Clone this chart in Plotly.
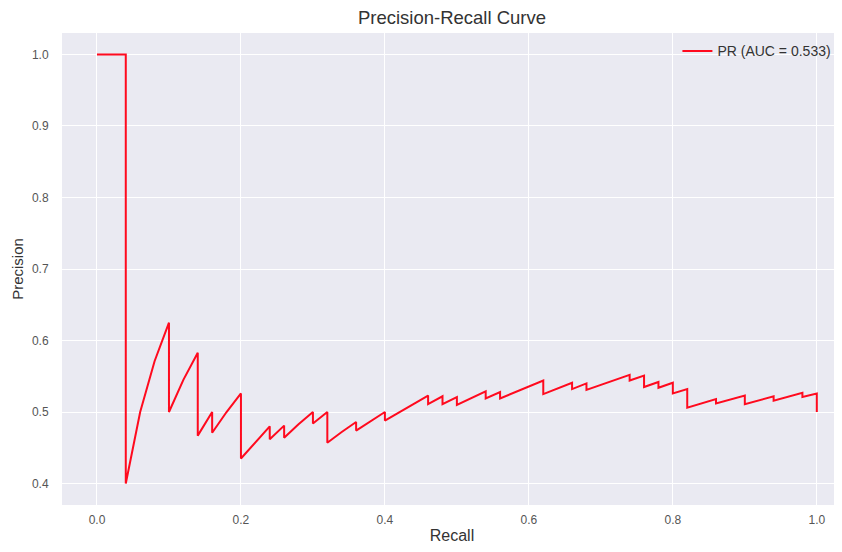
import plotly.graph_objects as go

recall = [0.00, 0.02, 0.04, 0.04, 0.06, 0.08, 0.10, 0.10, 0.12, 0.14, 0.14, 0.16, 0.16,
          0.18, 0.20, 0.20, 0.22, 0.24, 0.24, 0.26, 0.26, 0.28, 0.30, 0.30, 0.32, 0.32,
          0.34, 0.36, 0.36, 0.38, 0.40, 0.40, 0.42, 0.44, 0.46, 0.46, 0.48, 0.48, 0.50,
          0.50, 0.52, 0.54, 0.54, 0.56, 0.56, 0.58, 0.60, 0.62, 0.62, 0.64, 0.66, 0.66,
          0.68, 0.68, 0.70, 0.72, 0.74, 0.74, 0.76, 0.76, 0.78, 0.78, 0.80, 0.80, 0.82,
          0.82, 0.84, 0.86, 0.86, 0.88, 0.90, 0.90, 0.92, 0.94, 0.94, 0.96, 0.98, 0.98,
          1.00, 1.00]
precision = [1.000, 1.000, 1.000, 0.400, 0.500, 0.571, 0.625, 0.500, 0.545, 0.583, 0.467,
             0.500, 0.471, 0.500, 0.526, 0.435, 0.458, 0.480, 0.462, 0.481, 0.464, 0.483,
             0.500, 0.484, 0.500, 0.457, 0.472, 0.486, 0.474, 0.487, 0.500, 0.488, 0.500,
             0.512, 0.523, 0.511, 0.522, 0.511, 0.521, 0.510, 0.520, 0.529, 0.519, 0.528,
             0.519, 0.527, 0.536, 0.544, 0.525, 0.533, 0.541, 0.532, 0.540, 0.531, 0.538,
             0.545, 0.552, 0.544, 0.551, 0.535, 0.542, 0.534, 0.541, 0.526, 0.532, 0.506,
             0.512, 0.518, 0.512, 0.518, 0.523, 0.511, 0.517, 0.522, 0.516, 0.522, 0.527,
             0.521, 0.526, 0.500]

x_ticks = [0.0, 0.2, 0.4, 0.6, 0.8, 1.0]
y_ticks = [0.4, 0.5, 0.6, 0.7, 0.8, 0.9, 1.0]
auc_value = 0.533

fig = go.Figure()
fig.add_trace(go.Scatter(
    x=recall, y=precision, mode="lines",
    line=dict(color="#ff0a1e", width=2),
    name=f"PR (AUC = {auc_value:.3f})",
))

# The page body has an 8px margin, so the figure is sized to fill the rest of the window.
FONT = "Liberation Sans, Arial, sans-serif"
fig.update_layout(
    width=834, height=544,
    margin=dict(l=54, r=0, t=25, b=47, autoexpand=False),
    paper_bgcolor="white",
    plot_bgcolor="#EAEAF2",
    font=dict(family=FONT, color="#333333", size=12),
    title=dict(text="Precision-Recall Curve", x=0.5, xref="paper", xanchor="center",
               yref="container", y=1 - 10 / 544, yanchor="middle",
               font=dict(size=18.5, color="#333333")),
    showlegend=True,
    legend=dict(x=0.789, y=0.995, xanchor="left", yanchor="top",
                bgcolor="rgba(0,0,0,0)", font=dict(size=14, color="#333333"),
                itemwidth=30),
    xaxis=dict(range=[-0.0486, 1.035], tickvals=x_ticks, tickformat=".1f",
               automargin=False,
               showgrid=True, gridcolor="white", gridwidth=1, zeroline=False,
               showline=False, ticks="outside", ticklen=4, tickcolor="rgba(0,0,0,0)",
               tickfont=dict(size=12, color="#555555"),
               title=dict(text="Recall", font=dict(size=16, color="#333333"), standoff=3)),
    yaxis=dict(range=[0.37, 1.03], tickvals=y_ticks, tickformat=".1f",
               automargin=False,
               showgrid=True, gridcolor="white", gridwidth=1, zeroline=False,
               showline=False, ticks="outside", ticklen=10, tickcolor="rgba(0,0,0,0)",
               tickfont=dict(size=12, color="#555555"),
               title=dict(text="Precision", font=dict(size=15, color="#333333"), standoff=4)),
)

fig.write_html("out.html")
